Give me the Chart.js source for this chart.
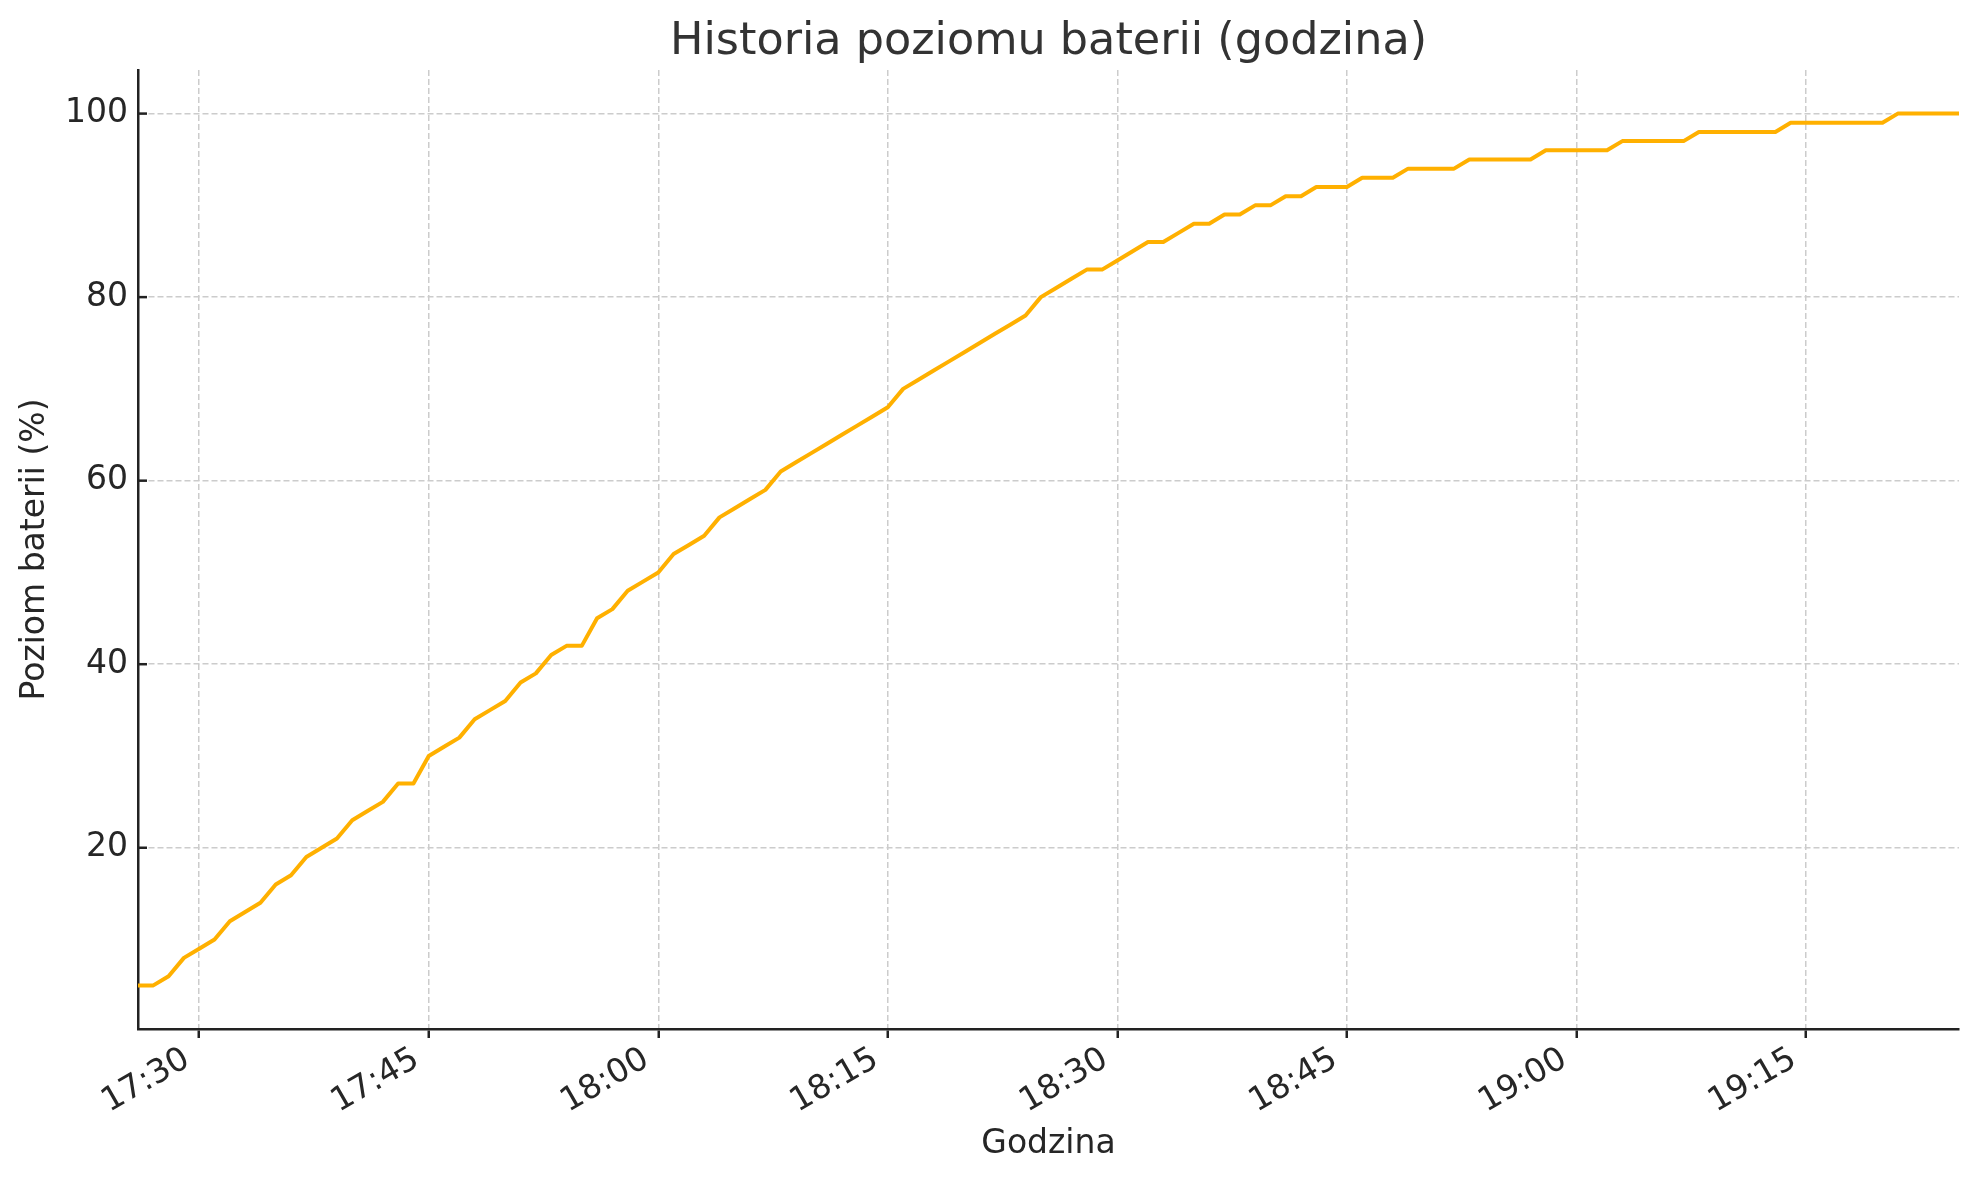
<!DOCTYPE html>
<html><head><meta charset="utf-8">
<script src="https://cdn.jsdelivr.net/npm/chart.js@4.4.0/dist/chart.umd.min.js"></script>
<style>html,body{margin:0;padding:0;background:#fff}#wrap{width:1979px;height:1180px}</style>
</head><body><div id="wrap"><canvas id="c" width="1979" height="1180"></canvas></div>
<script>
const chartTitle = 'Historia poziomu baterii (godzina)';
const xAxisTitle = 'Godzina';
const yAxisTitle = 'Poziom baterii (%)';

const times = [
 '17:26','17:27','17:28','17:29','17:30','17:31','17:32','17:33','17:34','17:35',
 '17:36','17:37','17:38','17:39','17:40','17:41','17:42','17:43','17:44','17:45',
 '17:46','17:47','17:48','17:49','17:50','17:51','17:52','17:53','17:54','17:55',
 '17:56','17:57','17:58','17:59','18:00','18:01','18:02','18:03','18:04','18:05',
 '18:06','18:07','18:08','18:09','18:10','18:11','18:12','18:13','18:14','18:15',
 '18:16','18:17','18:18','18:19','18:20','18:21','18:22','18:23','18:24','18:25',
 '18:26','18:27','18:28','18:29','18:30','18:31','18:32','18:33','18:34','18:35',
 '18:36','18:37','18:38','18:39','18:40','18:41','18:42','18:43','18:44','18:45',
 '18:46','18:47','18:48','18:49','18:50','18:51','18:52','18:53','18:54','18:55',
 '18:56','18:57','18:58','18:59','19:00','19:01','19:02','19:03','19:04','19:05',
 '19:06','19:07','19:08','19:09','19:10','19:11','19:12','19:13','19:14','19:15',
 '19:16','19:17','19:18','19:19','19:20','19:21','19:22','19:23','19:24','19:25'
];

const batteryLevels = [
  5, 5, 6, 8, 9,10,12,13,14,16,
 17,19,20,21,23,24,25,27,27,30,
 31,32,34,35,36,38,39,41,42,42,
 45,46,48,49,50,52,53,54,56,57,
 58,59,61,62,63,64,65,66,67,68,
 70,71,72,73,74,75,76,77,78,80,
 81,82,83,83,84,85,86,86,87,88,
 88,89,89,90,90,91,91,92,92,92,
 93,93,93,94,94,94,94,95,95,95,
 95,95,96,96,96,96,96,97,97,97,
 97,97,98,98,98,98,98,98,99,99,
 99,99,99,99,99,100,100,100,100,100
];

const xTickLabels = ['17:30','17:45','18:00','18:15','18:30','18:45','19:00','19:15'];
const yTickValues = [20, 40, 60, 80, 100];
const yMin = 0.25, yMax = 104.75;

function toMinutes(s){ const p = s.split(':').map(Number); return p[0]*60 + p[1]; }
function fmtTime(v){ const h = Math.floor(v/60); const m = Math.round(v - h*60); return h + ':' + String(m).padStart(2,'0'); }

const points = times.map((t,i) => ({x: toMinutes(t), y: batteryLevels[i]}));
const FONT = "'DejaVu Sans', 'Liberation Sans', sans-serif";
const AXIS_COLOR = '#222222';
const TEXT_COLOR = '#262626';

const innerYTicks = {
  id: 'innerYTicks',
  afterDraw(chart){
    const ys = chart.scales.y, ctx = chart.ctx, left = chart.chartArea.left;
    ctx.save();
    ctx.strokeStyle = AXIS_COLOR; ctx.lineWidth = 2.5;
    ys.ticks.forEach(t => {
      const py = ys.getPixelForValue(t.value);
      ctx.beginPath(); ctx.moveTo(left, py); ctx.lineTo(left + 9, py); ctx.stroke();
    });
    ctx.restore();
  }
};

const axesTitle = {
  id: 'axesTitle',
  afterDraw(chart){
    const ctx = chart.ctx, ca = chart.chartArea;
    ctx.save();
    ctx.fillStyle = '#333333';
    ctx.font = "44.5px " + FONT;
    ctx.textAlign = 'center';
    ctx.textBaseline = 'middle';
    ctx.fillText(chartTitle, (ca.left + ca.right) / 2, 42);
    ctx.restore();
  }
};

new Chart(document.getElementById('c'), {
  type: 'line',
  data: {
    datasets: [{
      data: points,
      borderColor: '#FFB000',
      borderWidth: 4,
      pointRadius: 0,
      tension: 0,
      fill: false,
      borderJoinStyle: 'round',
      borderCapStyle: 'butt'
    }]
  },
  options: {
    responsive: false,
    devicePixelRatio: 1,
    animation: false,
    layout: { padding: { left: 0, right: 20, top: 70, bottom: 0 } },
    plugins: {
      legend: { display: false },
      tooltip: { enabled: false },
      title: { display: false }
    },
    scales: {
      x: {
        type: 'linear',
        min: toMinutes(times[0]), max: toMinutes(times[times.length-1]),
        afterBuildTicks(scale){ scale.ticks = xTickLabels.map(l => ({value: toMinutes(l)})); },
        afterFit(scale){ scale.height = 151; },
        ticks: {
          autoSkip: false, maxRotation: 30, minRotation: 30,
          padding: 2, labelOffset: -12,
          color: TEXT_COLOR, font: { family: FONT, size: 33 },
          callback: (v) => fmtTime(v)
        },
        grid: {
          color: '#cccccc', lineWidth: 1.5,
          drawTicks: true, tickLength: 9, tickColor: AXIS_COLOR, tickWidth: 2.5, tickBorderDash: []
        },
        border: { display: true, color: AXIS_COLOR, width: 2.5, dash: [6, 3] },
        title: {
          display: true, text: xAxisTitle, color: TEXT_COLOR,
          font: { family: FONT, size: 33 }, padding: { top: 0, bottom: 16 }
        }
      },
      y: {
        type: 'linear',
        min: yMin, max: yMax,
        afterBuildTicks(scale){ scale.ticks = yTickValues.map(v => ({value: v})); },
        afterFit(scale){ scale.width = 138; },
        ticks: {
          padding: 10, color: TEXT_COLOR, font: { family: FONT, size: 33 },
          callback: (v) => String(v)
        },
        grid: { color: '#cccccc', lineWidth: 1.5, drawTicks: false },
        border: { display: true, color: AXIS_COLOR, width: 2.5, dash: [6, 3] },
        title: {
          display: true, text: yAxisTitle, color: TEXT_COLOR,
          font: { family: FONT, size: 33 }, padding: { top: 16, bottom: 0 }
        }
      }
    }
  },
  plugins: [innerYTicks, axesTitle]
});
</script>
</body></html>
